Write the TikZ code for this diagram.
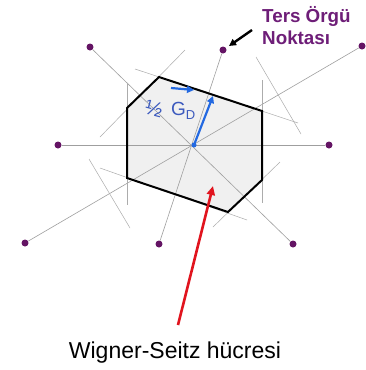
\documentclass[tikz,border=0pt]{standalone}
\usepackage{fontspec}
\setmainfont{Liberation Sans}
\usetikzlibrary{arrows.meta}
\definecolor{dotpurple}{RGB}{100,20,100}
\definecolor{txtpurple}{RGB}{110,30,120}
\definecolor{gdblue}{RGB}{35,105,225}
\definecolor{lblblue}{RGB}{60,90,190}
\definecolor{arrred}{RGB}{225,20,30}
\begin{document}
\begin{tikzpicture}[x=1pt,y=-1pt,
  latt/.style={circle,fill=dotpurple,inner sep=0pt,minimum size=7pt},
  axisline/.style={draw=gray!75,line width=0.6pt},
  bisline/.style={draw=gray!65,line width=0.5pt},
  cellborder/.style={draw=black,line width=2pt,line join=miter},
  cellfill/.style={fill=gray!12},
  bluearrow/.style={draw=gdblue,line width=2.2pt,-{Triangle[length=7pt,width=7pt]}},
  redarrow/.style={draw=arrred,line width=2.6pt,-{Triangle[length=9pt,width=8pt]}},
  blackarrow/.style={draw=black,line width=2.4pt,-{Triangle[length=7pt,width=7pt]}},
  purpletext/.style={text=txtpurple,font=\fontsize{18.8}{22}\selectfont\bfseries,inner sep=0pt},
  bluelabel/.style={text=lblblue,inner sep=0pt},
  captiontext/.style={font=\fontsize{23}{26}\selectfont,inner sep=0pt}
]
\useasboundingbox (0,0) rectangle (366,370);
\fill[white] (0,0) rectangle (366,370);

% hexagon corners
\coordinate (h1) at (159,77);
\coordinate (h2) at (262,111);
\coordinate (h3) at (262,180);
\coordinate (h4) at (228,212);
\coordinate (h5) at (127,178);
\coordinate (h6) at (127,108);
\fill[cellfill] (h1) -- (h2) -- (h3) -- (h4) -- (h5) -- (h6) -- cycle;

% centre and lattice points
\coordinate (c) at (194,145);
\node[latt] (pL) at (58,145) {};
\node[latt] (pR) at (329,145) {};
\node[latt] (pTL) at (90,47) {};
\node[latt] (pT) at (223,50) {};
\node[latt] (pTR) at (362,46) {};
\node[latt] (pBL) at (25,243) {};
\node[latt] (pB) at (159,244) {};
\node[latt] (pBR) at (293,244) {};

% lines through centre
\draw[axisline] (pL) -- (pR);
\draw[axisline] (pTL) -- (pBR);
\draw[axisline] (pT) -- (pB);
\draw[axisline] (pBL) -- (pTR);

% perpendicular bisectors
\coordinate (b1a) at (127,83);  \coordinate (b1b) at (127,205);
\coordinate (b2a) at (262,80);  \coordinate (b2b) at (262,203);
\coordinate (b3a) at (185,50);  \coordinate (b3b) at (100,137);
\coordinate (b4a) at (135,69);  \coordinate (b4b) at (298,123);
\coordinate (b5a) at (256,57);  \coordinate (b5b) at (301,134);
\coordinate (b6a) at (89,159);  \coordinate (b6b) at (130,228);
\coordinate (b7a) at (100,168); \coordinate (b7b) at (247,220);
\coordinate (b8a) at (280,162); \coordinate (b8b) at (213,227);
\draw[bisline] (b1a) -- (b1b);
\draw[bisline] (b2a) -- (b2b);
\draw[bisline] (b3a) -- (b3b);
\draw[bisline] (b4a) -- (b4b);
\draw[bisline] (b5a) -- (b5b);
\draw[bisline] (b6a) -- (b6b);
\draw[bisline] (b7a) -- (b7b);
\draw[bisline] (b8a) -- (b8b);

% cell border
\draw[cellborder] (h1) -- (h2) -- (h3) -- (h4) -- (h5) -- (h6) -- cycle;

% blue vector and label
\fill[gdblue] (c) circle (2.5pt);
\coordinate (gtip) at (213,96);
\draw[bluearrow] (c) -- (gtip);
\coordinate (sa1) at (171,88);
\coordinate (sa2) at (194,90);
\draw[bluearrow] (sa1) -- (sa2);
\node[bluelabel,font=\fontsize{21}{21}\selectfont,rotate=-15] (half) at (154,109) {½};
\node[bluelabel,anchor=base west] (gd) at (171,115) {\fontsize{19}{19}\selectfont G\raisebox{-4pt}{\fontsize{13}{13}\selectfont D}};

% red arrow
\coordinate (rt) at (178,325);
\coordinate (rh) at (213,186);
\draw[redarrow] (rt) -- (rh);

% lattice point label
\node[purpletext,anchor=base west] (t1) at (262,22) {Ters Örgü};
\node[purpletext,anchor=base west] (t2) at (262,44) {Noktası};
\coordinate (ka) at (252,30);
\coordinate (kb) at (229,46);
\draw[blackarrow] (ka) -- (kb);

% caption
\node[captiontext,anchor=base] (cap) at (175,358) {Wigner-Seitz hücresi};
\end{tikzpicture}
\end{document}
